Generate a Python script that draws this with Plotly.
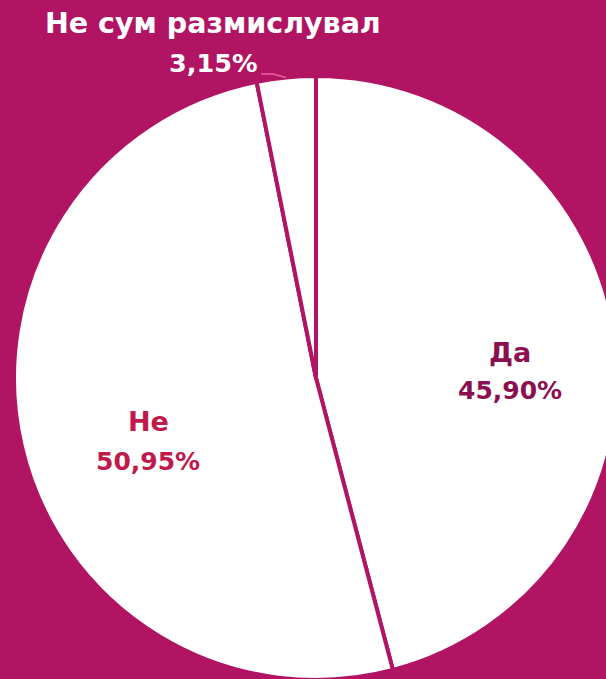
import plotly.graph_objects as go

# ---- data ----
labels = ["Да", "Не", "Не сум размислувал"]
values = [45.90, 50.95, 3.15]
label_colors = ["#8C0F50", "#C0194B", "#FFFFFF"]

BG = "#B21464"
W, H = 620, 680

def fmt(v):
    return f"{v:.2f}".replace(".", ",") + "%"

def px(x):
    return x / W

def py(y):
    return 1 - y / H

fig = go.Figure(go.Pie(
    labels=labels,
    values=values,
    sort=False,
    direction="clockwise",
    rotation=0,
    textinfo="none",
    hoverinfo="label+percent",
    marker=dict(colors=["#FFFFFF"] * len(values), line=dict(color=BG, width=4)),
    domain=dict(x=[px(14), px(618)], y=[0, py(76)]),
    showlegend=False,
))

FONT = "DejaVu Sans"
# label anchor positions: centre x, y of name line, y of value line, name size, value size
label_pos = [
    (510, 352, 390, 27, 25),   # Да
    (148, 421, 461, 27, 25),   # Не
    (213, 24, 63, 28.5, 25.5), # Не сум размислувал
]
annotations = []
for lab, val, col, (cx, y1, y2, fs1, fs2) in zip(labels, values, label_colors, label_pos):
    for txt, yy, fs in ((lab, y1, fs1), (fmt(val), y2, fs2)):
        annotations.append(dict(
            text=f"<b>{txt}</b>", x=px(cx), y=py(yy), xref="paper", yref="paper",
            xanchor="center", yanchor="middle", showarrow=False,
            font=dict(family=FONT, size=fs, color=col),
        ))

fig.update_layout(
    width=W, height=H,
    margin=dict(l=0, r=0, t=0, b=0),
    paper_bgcolor=BG, plot_bgcolor=BG,
    annotations=annotations,
    shapes=[dict(
        type="path", xref="paper", yref="paper",
        path=f"M {px(261)} {py(74)} L {px(273)} {py(74)} L {px(286)} {py(77.5)}",
        line=dict(color="#E8629E", width=1.5),
    )],
)

fig.write_html(
    "out.html",
    config={"displayModeBar": False},
    post_script="document.body.style.margin='0';document.body.style.overflow='hidden';",
)
